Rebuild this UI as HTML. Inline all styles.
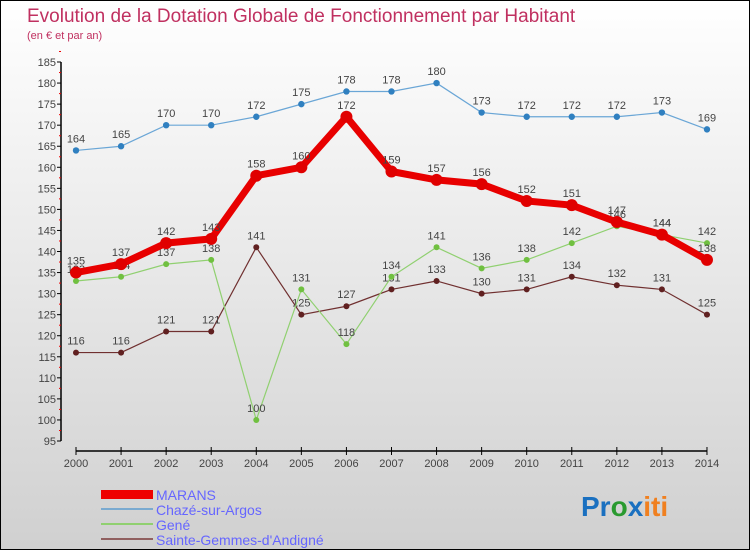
<!DOCTYPE html>
<html><head><meta charset="utf-8"><style>
html,body{margin:0;padding:0}
body{width:750px;height:550px;overflow:hidden;font-family:"Liberation Sans",sans-serif}
#wrap{position:relative;width:748px;height:548px;border:1px solid #000;background:linear-gradient(#fff,#d0d0d0)}
</style></head><body>
<div id="wrap">
<svg id="chart" width="748" height="548">
<text x="26" y="21" font-size="19" fill="#c03060">Evolution de la Dotation Globale de Fonctionnement par Habitant</text>
<text x="26" y="38" font-size="11" fill="#c03060">(en € et par an)</text>
<g id="axes"></g><g id="series"></g>
<g>
<rect x="100" y="489" width="52" height="9" fill="#e00"/>
<text x="155" y="499" font-size="14" fill="#66f">MARANS</text>
<line x1="100" y1="508" x2="152" y2="508" stroke="#7aaad0" stroke-width="2"/>
<text x="155" y="514" font-size="14" fill="#66f">Chazé-sur-Argos</text>
<line x1="100" y1="523" x2="152" y2="523" stroke="#90d070" stroke-width="2"/>
<text x="155" y="529" font-size="14" fill="#66f">Gené</text>
<line x1="100" y1="538" x2="152" y2="538" stroke="#906060" stroke-width="2"/>
<text x="155" y="544" font-size="14" fill="#66f">Sainte-Gemmes-d'Andigné</text>
</g>
<text x="580" y="515" font-size="28" font-weight="bold"><tspan fill="#1a70c0">Pr</tspan><tspan fill="#2a9a30">o</tspan><tspan fill="#1a70c0">x</tspan><tspan fill="#f08020">iti</tspan></text>
</svg></div>
<script>
const years=[2000,2001,2002,2003,2004,2005,2006,2007,2008,2009,2010,2011,2012,2013,2014];
const yTicks=[95,100,105,110,115,120,125,130,135,140,145,150,155,160,165,170,175,180,185];
const marans=[135,137,142,143,158,160,172,159,157,156,152,151,147,144,138];
const chaze=[164,165,170,170,172,175,178,178,180,173,172,172,172,173,169];
const gene=[133,134,137,138,100,131,118,134,141,136,138,142,146,144,142];
const sainte=[116,116,121,121,141,125,127,131,133,130,131,134,132,131,125];
const NS="http://www.w3.org/2000/svg";
function X(i){return 75+i*45.07;}
function Y(v){return 440-(v-95)*4.211;}
function mk(t,a,p){const e=document.createElementNS(NS,t);for(const k in a)e.setAttribute(k,a[k]);p.appendChild(e);return e;}
const ax=document.getElementById('axes');
let l=mk('line',{x1:60,y1:Y(185),x2:60,y2:Y(95),stroke:'#000','stroke-width':1.5},ax);


yTicks.forEach(v=>{
 mk('line',{x1:56,y1:Y(v),x2:60,y2:Y(v),stroke:'#000'},ax);
 mk('line',{x1:58,y1:Y(v+2.5),x2:60,y2:Y(v+2.5),stroke:'#e00'},ax);
 const t=mk('text',{x:55,y:Y(v)+4,'font-size':11,fill:'#444','text-anchor':'end'},ax);t.textContent=v;
 
 
});
l=mk('line',{x1:X(0),y1:450,x2:X(14),y2:450,stroke:'#000','stroke-width':1.5},ax);


years.forEach((y,i)=>{
 mk('line',{x1:X(i),y1:446,x2:X(i),y2:454,stroke:'#000'},ax);
 const t=mk('text',{x:X(i),y:466,'font-size':11,fill:'#444','text-anchor':'middle'},ax);t.textContent=y;
 
 
});
const sg=document.getElementById('series');
function draw(d,name,col,dot,w,r){
 const g=mk('g',{},sg);
 
 
 const p=mk('polyline',{points:d.map((v,i)=>X(i)+','+Y(v)).join(' '),fill:'none',stroke:col,'stroke-width':w},g);
 
 
 d.forEach((v,i)=>{
  const c=mk('circle',{cx:X(i),cy:Y(v),r:r,fill:dot},g);
  
  
  const t=mk('text',{x:X(i),y:Y(v)-8,'font-size':11,fill:'#444','text-anchor':'middle'},g);t.textContent=v;
  
  
 });
}
draw(sainte,'sainte-gemmes','#703030','#602020',1.2,3);
draw(gene,'gene','#90d070','#70c040',1.2,3);
draw(chaze,'chaze','#6aa6d6','#3080c0',1.2,3.2);
draw(marans,'marans','#e80000','#e00000',7,6);
</script>
</body></html>
